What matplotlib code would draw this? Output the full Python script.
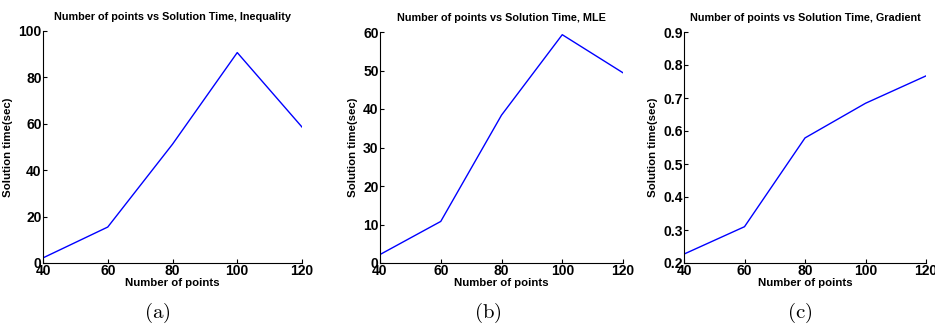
import matplotlib.pyplot as plt

# Data
num_points = [40, 60, 80, 100, 120]
time_inequality = [2.2, 15.5, 51.2, 90.7, 58.6]
time_mle = [2.2, 10.8, 38.4, 59.3, 49.4]
time_gradient = [0.227, 0.310, 0.579, 0.684, 0.767]

titles = ['Number of points vs Solution Time, Inequality',
          'Number of points vs Solution Time, MLE',
          'Number of points vs Solution Time, Gradient']
captions = ['(a)', '(b)', '(c)']
ylims = [(0, 100), (0, 60), (0.2, 0.9)]
yticks = [[0, 20, 40, 60, 80, 100],
          [0, 10, 20, 30, 40, 50, 60],
          [0.2, 0.3, 0.4, 0.5, 0.6, 0.7, 0.8, 0.9]]
series = [time_inequality, time_mle, time_gradient]

plt.rcParams['font.family'] = ['Liberation Sans', 'DejaVu Sans']
plt.rcParams['mathtext.fontset'] = 'cm'

fig = plt.figure(figsize=(9.35, 3.26), dpi=100)
W, H = 935, 326
# axes boxes in pixels: left, right, top, bottom
boxes = [(43, 302, 31, 263), (380, 623, 32, 263), (684, 926, 32, 263)]
cap_x = [157, 488, 800]

for i in range(3):
    l, r, t, b = boxes[i]
    ax = fig.add_axes([l / W, 1 - b / H, (r - l) / W, (b - t) / H])
    ax.plot(num_points, series[i], color='blue', linewidth=1)
    ax.set_xlim(40, 120)
    ax.set_ylim(*ylims[i])
    ax.set_xticks(num_points)
    ax.set_yticks(yticks[i])
    if i == 2:
        ax.set_yticklabels(['%.1f' % v for v in yticks[i]])
    ax.spines['top'].set_visible(False)
    ax.spines['right'].set_visible(False)
    ax.tick_params(direction='in', length=3, labelsize=10, pad=1)
    for lab in ax.get_xticklabels() + ax.get_yticklabels():
        lab.set_fontweight('bold')
    ax.set_title(titles[i], fontsize=7.8, fontweight='bold', pad=8)
    ax.set_xlabel('Number of points', fontsize=8.2, fontweight='bold', labelpad=0)
    ax.set_ylabel('Solution time(sec)', fontsize=8.2, fontweight='bold', labelpad=4)
    fig.text(cap_x[i] / W, 1 - 313 / H, r'$\mathrm{' + captions[i] + '}$',
             ha='center', va='center', fontsize=15)

plt.savefig('out.png', dpi=100)
